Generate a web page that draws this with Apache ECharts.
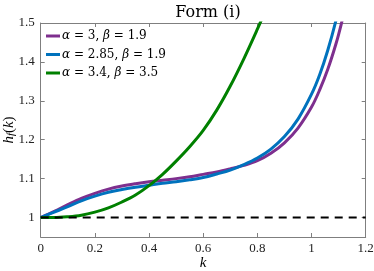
<!DOCTYPE html>
<html><head><meta charset="utf-8">
<script src="https://cdn.jsdelivr.net/npm/echarts@6/dist/echarts.min.js"></script>
<style>html,body{margin:0;padding:0;background:#fff}#c{width:374px;height:271px}</style>
</head><body><div id="c"></div>
<script>
// Data
const kPurple = [0, 0.05, 0.1, 0.15, 0.2, 0.25, 0.3, 0.35, 0.4, 0.45, 0.5, 0.55, 0.6, 0.65, 0.7, 0.75, 0.8, 0.85, 0.9, 0.95, 1.0, 1.03, 1.06, 1.09, 1.11, 1.13];
const hPurple = [1, 1.016, 1.033, 1.049, 1.062, 1.073, 1.081, 1.087, 1.092, 1.096, 1.100, 1.105, 1.111, 1.117, 1.125, 1.134, 1.146, 1.165, 1.192, 1.230, 1.284, 1.328, 1.381, 1.446, 1.498, 1.558];
const kBlue = [0, 0.05, 0.1, 0.15, 0.2, 0.25, 0.3, 0.35, 0.4, 0.45, 0.5, 0.55, 0.6, 0.65, 0.7, 0.75, 0.8, 0.85, 0.9, 0.95, 1.0, 1.03, 1.06, 1.09, 1.11];
const hBlue = [1, 1.014, 1.028, 1.043, 1.055, 1.065, 1.072, 1.078, 1.083, 1.088, 1.092, 1.097, 1.103, 1.112, 1.122, 1.136, 1.153, 1.176, 1.208, 1.253, 1.317, 1.367, 1.430, 1.506, 1.568];
const kGreen = [0, 0.05, 0.1, 0.15, 0.2, 0.25, 0.3, 0.35, 0.4, 0.45, 0.5, 0.55, 0.6, 0.65, 0.7, 0.75, 0.8, 0.83];
const hGreen = [1, 1.000, 1.002, 1.006, 1.014, 1.025, 1.040, 1.058, 1.082, 1.111, 1.145, 1.182, 1.224, 1.276, 1.338, 1.408, 1.484, 1.532];
const kBaseline = [0, 1.2];
const hBaseline = [1, 1];
const xTicks = [0, 0.2, 0.4, 0.6, 0.8, 1, 1.2];
const yTicks = [1, 1.1, 1.2, 1.3, 1.4, 1.5];
const legendNames = ['{i|α} = 3, {i|β} = 1.9', '{i|α} = 2.85, {i|β} = 1.9', '{i|α} = 3.4, {i|β} = 3.5'];

const zip = (a, b) => a.map((v, i) => [v, b[i]]);
const SERIF = '"Liberation Serif", "DejaVu Serif", serif';
const DSERIF = '"DejaVu Serif", "Liberation Serif", serif';
const axisGray = '#7f7f7f';

function xAx(pos, show) {
  return {
    type: 'value', position: pos, min: 0, max: 1.2,
    axisLine: {show: true, onZero: false, lineStyle: {color: axisGray, width: 1}},
    axisTick: {show: true, inside: true, length: 4, customValues: xTicks, lineStyle: {color: axisGray}},
    axisLabel: {show: show, customValues: xTicks, fontFamily: SERIF, fontSize: 13, color: '#222', margin: 5,
      formatter: v => String(Math.round(v * 10) / 10)},
    splitLine: {show: false},
    name: show ? 'k' : '', nameLocation: 'middle', nameGap: 19, nameMoveOverlap: false,
    nameTextStyle: {fontFamily: SERIF, fontStyle: 'italic', fontSize: 15, color: '#000'}
  };
}
function yAx(pos, show) {
  return {
    type: 'value', position: pos, min: 0.95, max: 1.5,
    axisLine: {show: true, onZero: false, lineStyle: {color: axisGray, width: 1}},
    axisTick: {show: true, inside: true, length: 4, customValues: yTicks, lineStyle: {color: axisGray}},
    axisLabel: {show: show, customValues: yTicks, fontFamily: SERIF, fontSize: 13, color: '#222', margin: 6,
      formatter: v => String(Math.round(v * 10) / 10)},
    splitLine: {show: false},
    name: show ? '{i|h}{s|f}{n|(}{i|k}{n|)}' : '', nameLocation: 'middle', nameGap: 24, nameRotate: 90,
    nameMoveOverlap: false,
    nameTextStyle: {rich: {
      i: {fontStyle: 'italic', fontFamily: SERIF, fontSize: 15, color: '#000', lineHeight: 16},
      n: {fontFamily: SERIF, fontSize: 15, color: '#000', lineHeight: 16},
      s: {fontStyle: 'italic', fontFamily: SERIF, fontSize: 11, color: '#000', lineHeight: 16, verticalAlign: 'bottom'}
    }}
  };
}

const chart = echarts.init(document.getElementById('c'), null, {renderer: 'canvas'});
const colors = ['#7E2F8E', '#0072BD', '#008000'];
chart.setOption({
  animation: false,
  color: colors,
  title: {text: 'Form (i)', left: 203, textAlign: 'center', top: 0,
    textStyle: {fontFamily: DSERIF, fontWeight: 'normal', fontSize: 16, color: '#000'}},
  grid: {left: 40.7, right: 8.3, top: 23, bottom: 34, containLabel: false, outerBoundsMode: 'none'},
  legend: {
    left: 46, top: 29, orient: 'vertical', itemGap: 4.5, itemWidth: 14, itemHeight: 3,
    icon: 'rect',
    data: legendNames,
    textStyle: {fontFamily: DSERIF, fontSize: 12, color: '#000', lineHeight: 14, padding: [0, 0, 0, -3],
      rich: {
        i: {fontStyle: 'italic', fontFamily: DSERIF, fontSize: 12, color: '#000', lineHeight: 14},
        n: {fontFamily: DSERIF, fontSize: 12, color: '#000', lineHeight: 14}
      }},
    padding: 0
  },
  xAxis: [xAx('bottom', true), xAx('top', false)],
  yAxis: [yAx('left', true), yAx('right', false)],
  series: [
    {name: legendNames[0], type: 'line', data: zip(kPurple, hPurple), smooth: 0.35, showSymbol: false, symbol: 'none',
      lineStyle: {color: colors[0], width: 3}, itemStyle: {color: colors[0]}, clip: true},
    {name: legendNames[1], type: 'line', data: zip(kBlue, hBlue), smooth: 0.35, showSymbol: false, symbol: 'none',
      lineStyle: {color: colors[1], width: 3}, itemStyle: {color: colors[1]}, clip: true},
    {name: legendNames[2], type: 'line', data: zip(kGreen, hGreen), smooth: 0.35, showSymbol: false, symbol: 'none',
      lineStyle: {color: colors[2], width: 3}, itemStyle: {color: colors[2]}, clip: true},
    {name: 'baseline', type: 'line', data: zip(kBaseline, hBaseline), showSymbol: false, symbol: 'none',
      lineStyle: {color: '#000', width: 2, type: [8, 6]}, itemStyle: {color: '#000'}, clip: true}
  ]
});
</script></body></html>
